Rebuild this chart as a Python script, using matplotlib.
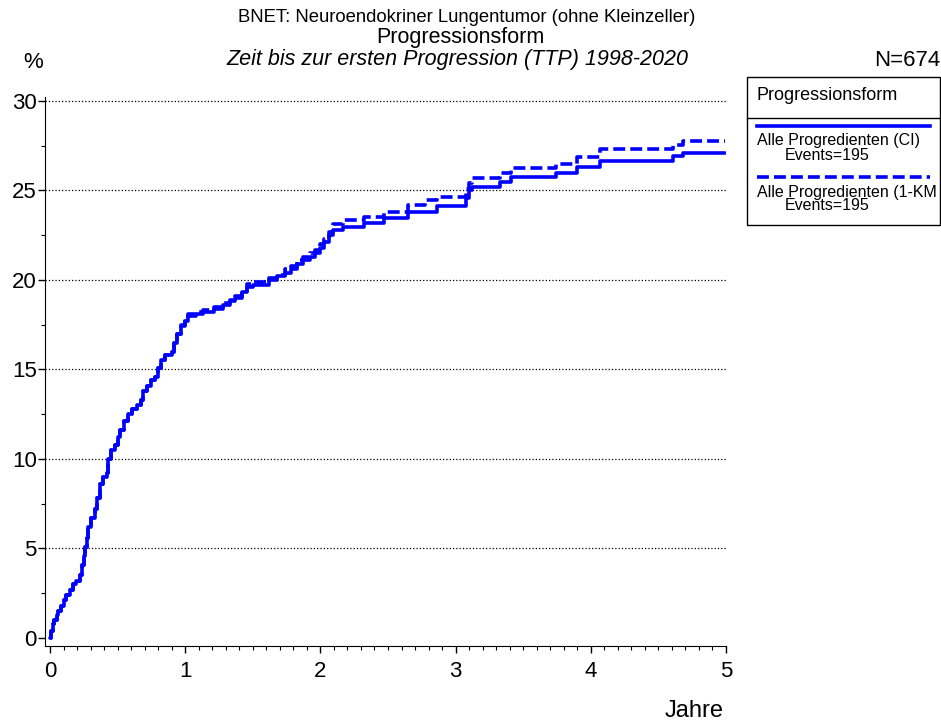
import matplotlib
matplotlib.use('Agg')
import matplotlib.pyplot as plt
from matplotlib.patches import Rectangle
from matplotlib.lines import Line2D
from matplotlib.ticker import MultipleLocator

plt.rcParams['font.family'] = ['Liberation Sans', 'DejaVu Sans']

# Ereigniszeitpunkte (Jahre) und kumulative Progressionsraten in %
jahre = [0.00, 0.01, 0.02, 0.03, 0.05, 0.06, 0.08, 0.10, 0.12, 0.15,
         0.17, 0.19, 0.22, 0.24, 0.25, 0.26, 0.27, 0.28, 0.30, 0.33,
         0.35, 0.37, 0.39, 0.42, 0.43, 0.45, 0.48, 0.50, 0.52, 0.55,
         0.58, 0.61, 0.64, 0.67, 0.69, 0.72, 0.75, 0.78, 0.80, 0.82,
         0.85, 0.90, 0.92, 0.94, 0.97, 1.00, 1.02, 1.08, 1.13, 1.21,
         1.28, 1.33, 1.37, 1.42, 1.46, 1.50, 1.62, 1.68, 1.74, 1.78,
         1.83, 1.87, 1.92, 1.96, 2.00, 2.03, 2.06, 2.09, 2.17, 2.32,
         2.47, 2.65, 2.77, 2.86, 3.08, 3.10, 3.12, 3.33, 3.41, 3.74,
         3.90, 4.07, 4.61, 4.68, 4.99]
ci = [0.0, 0.4, 0.8, 1.0, 1.3, 1.5, 1.8, 2.1, 2.4, 2.7,
      3.0, 3.2, 3.5, 4.1, 4.6, 5.1, 5.6, 6.2, 6.7, 7.2,
      7.8, 8.6, 9.0, 9.2, 10.0, 10.5, 10.8, 11.2, 11.6, 12.1,
      12.5, 12.8, 13.0, 13.3, 13.8, 14.1, 14.4, 14.6, 15.1, 15.5,
      15.8, 16.0, 16.5, 17.0, 17.4, 17.7, 18.0, 18.1, 18.2, 18.4,
      18.6, 18.8, 19.0, 19.3, 19.6, 19.7, 20.0, 20.2, 20.4, 20.6,
      20.9, 21.1, 21.3, 21.5, 21.8, 22.1, 22.5, 22.8, 22.95, 23.17,
      23.45, 23.82, 23.82, 24.13, 24.6, 25.0, 25.21, 25.49, 25.74, 25.96,
      26.33, 26.67, 26.93, 27.11, 27.11]
km = [0.0, 0.4, 0.8, 1.0, 1.3, 1.5, 1.8, 2.1, 2.4, 2.7,
      3.0, 3.2, 3.5, 4.1, 4.6, 5.1, 5.6, 6.2, 6.7, 7.2,
      7.8, 8.6, 9.0, 9.2, 10.0, 10.5, 10.8, 11.2, 11.6, 12.1,
      12.5, 12.8, 13.0, 13.3, 13.8, 14.1, 14.4, 14.6, 15.1, 15.5,
      15.8, 16.0, 16.5, 17.0, 17.5, 17.8, 18.1, 18.2, 18.3, 18.5,
      18.7, 18.9, 19.1, 19.4, 19.8, 19.9, 20.1, 20.3, 20.6, 20.8,
      21.1, 21.3, 21.5, 21.7, 22.0, 22.3, 22.7, 23.1, 23.35, 23.5,
      23.8, 24.19, 24.47, 24.62, 25.1, 25.4, 25.68, 25.96, 26.24, 26.48,
      26.89, 27.30, 27.54, 27.77, 27.77]

yticks = [0, 5, 10, 15, 20, 25, 30]
xticks = [0, 1, 2, 3, 4, 5]
blau = (0, 0, 1)

fig = plt.figure(figsize=(9.41, 7.26), dpi=100)
ax = fig.add_axes([45/941, 80/726, 681/941, 549/726])

for v in yticks[1:]:
    ax.axhline(v, ls=':', color='black', lw=0.9, zorder=1)

ax.plot(jahre, ci, drawstyle='steps-post', color=blau, lw=2.6,
        solid_joinstyle='round', solid_capstyle='round', zorder=3)
ax.plot(jahre, km, drawstyle='steps-post', color=blau, lw=2.6,
        dashes=(3.3, 1.4), zorder=3)

ax.set_xlim(-0.037, 5.0)
ax.set_ylim(-0.45, 30.22)
ax.spines['top'].set_visible(False)
ax.spines['right'].set_visible(False)
ax.set_xticks(xticks)
ax.set_yticks(yticks)
ax.xaxis.set_minor_locator(MultipleLocator(0.1))
ax.yaxis.set_minor_locator(MultipleLocator(2.5))
ax.tick_params(axis='both', which='major', direction='out', length=5,
               width=1, labelsize=16)
ax.tick_params(axis='both', which='minor', direction='out', length=3, width=0.8)
ax.tick_params(axis='x', which='major', pad=6)
ax.tick_params(axis='y', which='major', pad=1)

# Titel und Beschriftungen
fig.text(0.496, 1 - 17/726, 'BNET: Neuroendokriner Lungentumor (ohne Kleinzeller)',
         ha='center', va='center', fontsize=13.3)
fig.text(0.489, 1 - 37/726, 'Progressionsform', ha='center', va='center', fontsize=15.5)
fig.text(0.486, 1 - 60/726, 'Zeit bis zur ersten Progression (TTP) 1998-2020',
         ha='center', va='center', fontsize=15.5, style='italic')
fig.text(33/941, 1 - 62/726, '%', ha='center', va='center', fontsize=16)
fig.text(940/941, 1 - 60/726, 'N=674', ha='right', va='center', fontsize=16)
fig.text(724/941, 1 - 711/726, 'Jahre', ha='right', va='center', fontsize=17)

# Legende
fig.add_artist(Rectangle((747/941, 1 - 225/726), (940 - 747)/941, (225 - 77)/726,
                         transform=fig.transFigure, fill=False, ec='black', lw=1))
fig.add_artist(Line2D([747/941, 940/941], [1 - 118/726] * 2,
                      transform=fig.transFigure, color='black', lw=1))
fig.text(757/941, 1 - 96/726, 'Progressionsform', ha='left', va='center', fontsize=13)
fig.add_artist(Line2D([757/941, 930/941], [1 - 126/726] * 2,
                      transform=fig.transFigure, color=blau, lw=2.6))
fig.text(757/941, 1 - 141/726, 'Alle Progredienten (CI)', ha='left', va='center', fontsize=11.5)
fig.text(785/941, 1 - 155/726, 'Events=195', ha='left', va='center', fontsize=11.5)
fig.add_artist(Line2D([757/941, 930/941], [1 - 177/726] * 2,
                      transform=fig.transFigure, color=blau, lw=2.6, dashes=(3.3, 1.4)))
fig.text(757/941, 1 - 192/726, 'Alle Progredienten (1-KM', ha='left', va='center', fontsize=11.5)
fig.text(785/941, 1 - 206/726, 'Events=195', ha='left', va='center', fontsize=11.5)

fig.savefig('out.png', dpi=100)
